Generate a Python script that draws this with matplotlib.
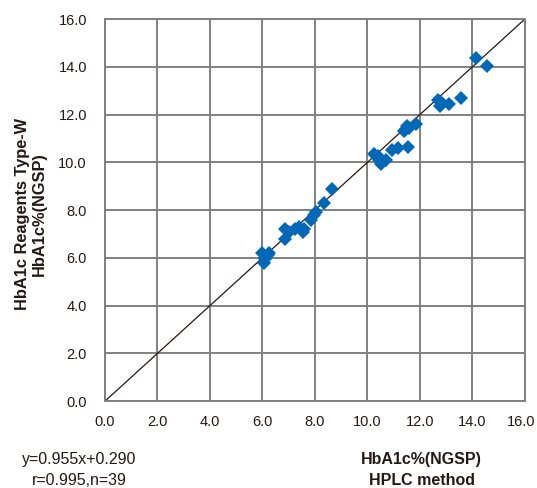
import numpy as np
import matplotlib.pyplot as plt
from matplotlib.transforms import ScaledTranslation

plt.rcParams['font.family'] = ['Liberation Sans', 'DejaVu Sans']

# HPLC method (x) vs Reagents Type-W (y), HbA1c % (NGSP)
hplc = [6.0, 6.05, 6.1, 6.2, 6.25, 6.1, 6.15,
        6.85, 6.85, 7.0, 7.25, 7.4, 7.55, 7.6,
        7.85, 7.95, 8.05, 8.35, 8.65,
        10.25, 10.4, 10.45, 10.5, 10.7, 10.95, 11.15, 11.55, 11.4, 11.45, 11.5, 11.6, 11.85,
        12.7, 12.75, 12.85, 13.1, 13.55,
        14.15, 14.55]
typew = [6.2, 5.8, 6.0, 6.1, 6.2, 5.95, 6.05,
         6.8, 7.2, 7.1, 7.2, 7.3, 7.1, 7.2,
         7.6, 7.8, 7.9, 8.3, 8.9,
         10.35, 10.25, 10.1, 9.95, 10.1, 10.5, 10.6, 10.65, 11.3, 11.35, 11.5, 11.45, 11.6,
         12.6, 12.35, 12.5, 12.45, 12.7,
         14.35, 14.05]

ticks = np.arange(0, 17, 2)

fig = plt.figure(figsize=(5.37, 4.88), dpi=100)
ax = fig.add_axes([0.1955, 0.178, 0.782, 0.783])

ax.plot([0, 16], [0, 16], color='#231815', linewidth=0.9, zorder=2)
ax.plot(hplc, typew, 'D', color='#0068b7', markersize=7.5, markeredgewidth=0, zorder=3)

ax.set_xlim(0, 16)
ax.set_ylim(0, 16)
ax.set_xticks(ticks)
ax.set_yticks(ticks)
ax.set_xticklabels([f'{t:.1f}' for t in ticks])
ax.set_yticklabels([f'{t:.1f}' for t in ticks])
ax.tick_params(length=0, labelsize=10.5, colors='#231815')
ax.tick_params(axis='x', pad=10)
ax.tick_params(axis='y', pad=13)
ax.grid(True, color='#808080', linewidth=1.4, zorder=1)
ax.set_axisbelow(True)
for s in ax.spines.values():
    s.set_color('#808080')
    s.set_linewidth(1.4)

# nudge the last x label so it stays inside the figure
last = ax.get_xticklabels()[-1]
last.set_transform(last.get_transform() + ScaledTranslation(-3 / 72, 0, fig.dpi_scale_trans))

fig.text(0.058, 0.561, 'HbA1c Reagents Type-W\nHbA1c%(NGSP)', rotation=90,
         ha='center', va='center', fontsize=11.8, fontweight='bold',
         color='#231815', linespacing=1.15)
fig.text(0.785, 0.0, 'HbA1c%(NGSP)\nHPLC method', ha='center', va='bottom',
         fontsize=11.5, fontweight='bold', color='#231815', linespacing=1.5)
fig.text(0.147, 0.0, 'y=0.955x+0.290\nr=0.995,n=39', ha='center', va='bottom',
         fontsize=11.5, color='#231815', linespacing=1.5)

fig.savefig('out.png', dpi=100)
